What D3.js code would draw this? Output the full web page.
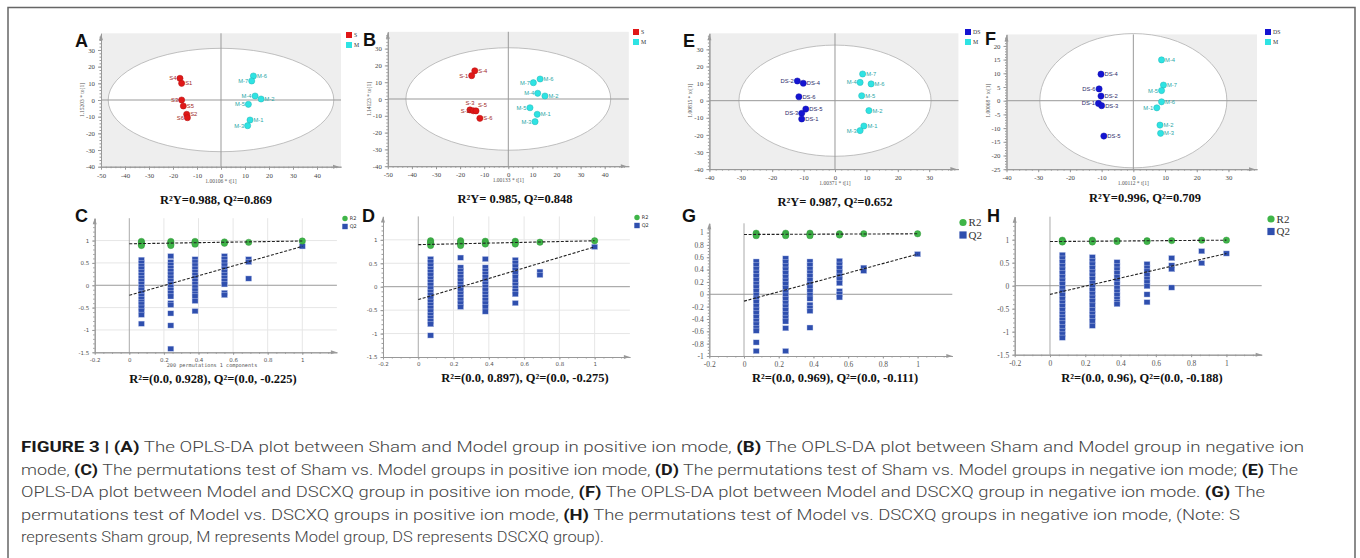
<!DOCTYPE html>
<html>
<head>
<meta charset="utf-8">
<script src="https://cdn.jsdelivr.net/npm/d3@7"></script>
<style>
  body { margin: 0; background: #fff; }
  svg { display: block; }
</style>
</head>
<body>
<svg id="fig" width="1360" height="558"></svg>
<script>
// ---------- OPLS-DA scores : [sample, t[1], to[1]] ----------
var shamA = [["S4",-17.1,13],["S1",-16.4,10],["S3",-16.4,0],["S5",-15.7,-3.6],["S2",-14.3,-8.6],["S6",-14,-10.6]];
var modelA = [["M-6",13.5,14.4],["M-7",12.8,11.4],["M-4",14.2,2.4],["M-2",16.7,0.6],["M-5",11.4,-2.6],["M-1",12.1,-12],["M-3",11.1,-15.4]];

var shamB = [["S-4",-13.9,16.8],["S-1",-15.2,13.9],["S-3",-15.9,-6.5],["S-2",-14.5,-7],["S-5",-13.4,-7.1],["S-6",-11.8,-11.5]];
var modelB = [["M-6",13.2,11.9],["M-7",10.4,9.7],["M-4",12.2,3.4],["M-2",15.2,1.8],["M-5",9,-5.2],["M-1",12,-9.1],["M-3",11.1,-13.5]];

var dsE = [["DS-2",-12,11.5],["DS-4",-10.1,10.2],["DS-6",-11.5,2.3],["DS-5",-9.3,-4.9],["DS-3",-10.6,-7.4],["DS-1",-10.6,-10.7]];
var modelE = [["M-7",8.8,15.6],["M-4",8,10.7],["M-6",11.5,9.8],["M-5",8.5,2.9],["M-2",10.8,-5.8],["M-1",9.2,-14.8],["M-3",8,-17.5]];

var dsF = [["DS-4",-10.2,9.7],["DS-6",-10.8,4.3],["DS-2",-10.2,1.7],["DS-1",-11,-1],["DS-3",-10,-1.8],["DS-5",-9.3,-12.9]];
var modelF = [["M-4",8.9,14.9],["M-7",9.5,5.7],["M-5",8.9,3.7],["M-6",8.9,-0.4],["M-1",7.4,-2.6],["M-2",8.4,-8.9],["M-3",8.6,-11.9]];

// Hotelling T2 ellipse half-axes [t, to]
var ellA = [47, 31], ellB = [42.5, 30.5], ellE = [30.6, 32.5], ellF = [29.5, 24.5];

var statsTop = ["R\u00b2Y=0.988, Q\u00b2=0.869", "R\u00b2Y= 0.985, Q\u00b2=0.848", "R\u00b2Y= 0.987, Q\u00b2=0.652", "R\u00b2Y=0.996, Q\u00b2=0.709"];

// ---------- permutation tests ----------
var permX = [0.07, 0.24, 0.38, 0.55, 0.69, 1];
var permXH = [0.07, 0.24, 0.38, 0.55, 0.69, 0.86, 1];

var r2C = [[0.98,0.95,0.92,0.89],[0.98,0.95,0.92,0.89],[0.98,0.95,0.92],[0.97,0.94],[0.96],[0.99]];
var q2C = [
  [0.57,0.5,0.43,0.37,0.3,0.23,0.16,0.1,0.03,-0.04,-0.1,-0.17,-0.24,-0.31,-0.37,-0.43,-0.5,-0.57,-0.66,-0.86],
  [0.65,0.52,0.45,0.38,0.31,0.24,0.17,0.1,0.03,-0.04,-0.11,-0.18,-0.25,-0.4,-0.44,-0.63,-0.9,-1.42],
  [0.58,0.51,0.44,0.37,0.3,0.23,0.16,0.09,0.02,-0.05,-0.12,-0.19,-0.25,-0.35,-0.58],
  [0.65,0.58,0.51,0.44,0.37,0.3,0.23,0.16,0.09,0.02,-0.17,-0.22],
  [0.58,0.52,0.15],
  [0.87]];
var icptC = [0.928, -0.225];

var r2D = [[0.98,0.95,0.92,0.88],[0.98,0.95,0.92,0.88],[0.97,0.94,0.91],[0.97,0.94,0.91],[0.95],[0.98]];
var q2D = [
  [0.59,0.52,0.45,0.38,0.31,0.24,0.17,0.1,0.03,-0.04,-0.11,-0.18,-0.25,-0.32,-0.39,-0.46,-0.53,-0.6,-0.67,-0.74,-0.8,-1.04],
  [0.62,0.41,0.34,0.27,0.2,0.13,0.06,-0.01,-0.08,-0.15,-0.22,-0.29,-0.36,-0.43],
  [0.59,0.41,0.34,0.27,0.2,0.13,0.06,-0.01,-0.08,-0.15,-0.22,-0.29,-0.36,-0.43,-0.53],
  [0.57,0.5,0.43,0.36,0.29,0.21,0.11,0.04,-0.03,-0.1,-0.16,-0.35],
  [0.32,0.25],
  [0.85]];
var icptD = [0.897, -0.275];

var r2G = [[0.99,0.97,0.95],[0.99,0.97,0.95],[0.99,0.97,0.95],[0.98,0.96],[0.98],[0.98]];
var q2G = [
  [0.53,0.47,0.41,0.35,0.29,0.23,0.17,0.11,0.05,-0.01,-0.07,-0.13,-0.19,-0.25,-0.31,-0.37,-0.43,-0.49,-0.55,-0.59,-0.78,-0.92],
  [0.58,0.52,0.46,0.4,0.34,0.28,0.22,0.16,0.1,0.04,-0.02,-0.08,-0.14,-0.2,-0.26,-0.32,-0.38,-0.44,-0.55,-0.92],
  [0.53,0.47,0.41,0.35,0.29,0.23,0.17,0.11,0.05,-0.01,-0.07,-0.17,-0.22,-0.27,-0.54],
  [0.54,0.48,0.42,0.36,0.3,0.24,0.18,0.05,0,-0.05],
  [0.43,0.38],
  [0.65]];
var icptG = [0.969, -0.111];

var r2H = [[0.99,0.97,0.95],[0.99,0.97,0.95],[0.98,0.96],[0.98,0.96],[0.98],[0.99],[0.99]];
var q2H = [
  [0.67,0.59,0.51,0.43,0.35,0.27,0.19,0.11,0.03,-0.05,-0.13,-0.21,-0.29,-0.37,-0.45,-0.53,-0.61,-0.69,-0.75,-0.82,-0.9,-0.98,-1.06,-1.13],
  [0.62,0.54,0.46,0.38,0.3,0.22,0.14,0.06,-0.02,-0.1,-0.18,-0.26,-0.34,-0.43,-0.53,-0.61,-0.69,-0.77,-0.87],
  [0.51,0.43,0.35,0.27,0.19,0.11,0.03,-0.05,-0.13,-0.21,-0.29,-0.36,-0.4],
  [0.47,0.39,0.31,0.23,0.15,0.07,-0.01,-0.19,-0.36],
  [0.6,0.44,0.36,-0.04],
  [0.75,0.49],
  [0.7]];
var icptH = [0.96, -0.188];

var statsPerm = ["R\u00b2=(0.0, 0.928), Q\u00b2=(0.0, -0.225)", "R\u00b2=(0.0, 0.897), Q\u00b2=(0.0, -0.275)",
                 "R\u00b2=(0.0, 0.969), Q\u00b2=(0.0, -0.111)", "R\u00b2=(0.0, 0.96), Q\u00b2=(0.0, -0.188)"];

var caption = [
  [["FIGURE 3 | ",1],["(A)",1],[" The OPLS-DA plot between Sham and Model group in positive ion mode, ",0],["(B)",1],[" The OPLS-DA plot between Sham and Model group in negative ion",0]],
  [["mode, ",0],["(C)",1],[" The permutations test of Sham vs. Model groups in positive ion mode, ",0],["(D)",1],[" The permutations test of Sham vs. Model groups in negative ion mode; ",0],["(E)",1],[" The",0]],
  [["OPLS-DA plot between Model and DSCXQ group in positive ion mode, ",0],["(F)",1],[" The OPLS-DA plot between Model and DSCXQ group in negative ion mode. ",0],["(G)",1],[" The",0]],
  [["permutations test of Model vs. DSCXQ groups in positive ion mode, ",0],["(H)",1],[" The permutations test of Model vs. DSCXQ groups in negative ion mode, (Note: S",0]],
  [["represents Sham group, M represents Model group, DS represents DSCXQ group).",0]]
];
var captionWidths = [1283, 1277, 1244, 1219, 583];

// ---------- colours ----------
var C_S = "#e01818", C_M = "#2ee3e3", C_DS = "#1414d2";
var C_R2 = "#3fb548", C_Q2 = "#2f4fae";

var svg = d3.select("#fig");
svg.append("rect").attr("width", 1360).attr("height", 558).attr("fill", "#fff");
svg.append("path").attr("d", "M8,562V7.5H1355V562").attr("fill", "none").attr("stroke", "#666").attr("stroke-width", 1.5);

function arrow(g, x, y, dir) {
  var p = dir === "up" ? [[x, y], [x - 2, y + 6], [x + 2, y + 6]] : [[x, y], [x - 6, y - 2], [x - 6, y + 2]];
  g.append("path").attr("d", d3.line()(p) + "Z").attr("fill", "#999");
}

function styleAxis(a, font, size, col) {
  a.select(".domain").attr("stroke", "#999");
  a.selectAll(".tick line").attr("stroke", "#999");
  a.selectAll(".tick text").attr("font-family", font).attr("font-size", size).attr("fill", col);
}

function letter(t, x, y) {
  svg.append("text").attr("x", x).attr("y", y).text(t)
    .attr("font-family", "Liberation Sans, Arial, sans-serif").attr("font-weight", "bold")
    .attr("font-size", 18).attr("fill", "#111");
}

function stat(t, x, y) {
  svg.append("text").attr("x", x).attr("y", y).text(t).attr("text-anchor", "middle")
    .attr("font-family", "Liberation Serif, Times New Roman, serif").attr("font-weight", "bold")
    .attr("font-size", 12.5).attr("fill", "#111");
}

function drawScatter(p) {
  var g = svg.append("g");
  var x = d3.scaleLinear().domain(p.xd).range(p.xr);
  var y = d3.scaleLinear().domain(p.yd).range(p.yr);
  var x0 = p.xr[0], x1 = p.xr[1], yb = p.yr[0], yt = p.yr[1];

  g.append("rect").attr("x", x0).attr("y", yt).attr("width", x1 - x0).attr("height", yb - yt).attr("fill", "#eeeeee");
  g.append("ellipse").attr("cx", x(0)).attr("cy", y(0))
    .attr("rx", x(p.ell[0]) - x(0)).attr("ry", y(0) - y(p.ell[1]))
    .attr("fill", "#fff").attr("stroke", "#b0b0b0").attr("stroke-width", 0.8);
  g.append("line").attr("x1", x(0)).attr("x2", x(0)).attr("y1", yt).attr("y2", yb).attr("stroke", "#999");
  g.append("line").attr("x1", x0).attr("x2", x1).attr("y1", y(0)).attr("y2", y(0)).attr("stroke", "#999");

  var fmt = function(d) { return String(d); };
  var ax = g.append("g").attr("transform", "translate(0," + yb + ")")
    .call(d3.axisBottom(x).tickValues(p.xt).tickSize(3).tickSizeOuter(0).tickFormat(fmt));
  styleAxis(ax, "Liberation Serif, serif", 6.8, "#444");
  var axm = g.append("g").attr("transform", "translate(0," + yb + ")")
    .call(d3.axisBottom(x).tickValues(p.xm).tickSize(1.5).tickSizeOuter(0).tickFormat(""));
  styleAxis(axm, "serif", 1, "#444");
  var ay = g.append("g").attr("transform", "translate(" + x0 + ",0)")
    .call(d3.axisLeft(y).tickValues(p.yt).tickSize(3).tickSizeOuter(0).tickFormat(fmt));
  styleAxis(ay, "Liberation Serif, serif", 6.8, "#444");
  var aym = g.append("g").attr("transform", "translate(" + x0 + ",0)")
    .call(d3.axisLeft(y).tickValues(p.ym).tickSize(1.5).tickSizeOuter(0).tickFormat(""));
  styleAxis(aym, "serif", 1, "#444");
  arrow(g, x0, yt + 1, "up");
  arrow(g, x1 - 2, yb, "right");

  g.append("text").attr("x", x(0)).attr("y", yb + 16).attr("text-anchor", "middle").text(p.xl)
    .attr("font-family", "Liberation Serif, serif").attr("font-size", 5.5).attr("fill", "#555");
  g.append("text").attr("transform", "translate(" + (x0 - 17) + "," + y(0) + ") rotate(-90)")
    .attr("text-anchor", "middle").text(p.yl)
    .attr("font-family", "Liberation Serif, serif").attr("font-size", 5.5).attr("fill", "#555");

  // label placement: left of point, above it, above-right, or right (default)
  function where(name) {
    if (p.left.indexOf(name) >= 0) return "l";
    if ((p.up || []).indexOf(name) >= 0) return "u";
    if ((p.upr || []).indexOf(name) >= 0) return "ur";
    return "r";
  }
  var dxs = { l: -3.5, r: 3.5, u: 0, ur: 2 }, dys = { l: 2, r: 2, u: -4.5, ur: -3.5 };
  var anc = { l: "end", r: "start", u: "middle", ur: "start" };

  p.groups.forEach(function(gr) {
    var pts = g.append("g").selectAll("g").data(gr.data).join("g");
    pts.append("circle").attr("cx", function(d) { return x(d[1]); }).attr("cy", function(d) { return y(d[2]); })
      .attr("r", 3.1).attr("fill", gr.color).attr("stroke", d3.color(gr.color).darker(0.6)).attr("stroke-width", 0.5);
    pts.append("text")
      .attr("x", function(d) { return x(d[1]) + dxs[where(d[0])]; })
      .attr("y", function(d) { return y(d[2]) + dys[where(d[0])]; })
      .attr("text-anchor", function(d) { return anc[where(d[0])]; })
      .text(function(d) { return d[0]; })
      .attr("font-family", "Liberation Sans, Arial, sans-serif").attr("font-size", 5.8).attr("fill", gr.label);
  });

  // legend
  p.groups.forEach(function(gr, i) {
    g.append("rect").attr("x", p.leg[0]).attr("y", p.leg[1] + i * 10).attr("width", 6).attr("height", 6).attr("fill", gr.color);
    g.append("text").attr("x", p.leg[0] + 8).attr("y", p.leg[1] + i * 10 + 5).text(gr.name)
      .attr("font-family", "Liberation Serif, serif").attr("font-size", 5.8).attr("fill", "#333");
  });
}

function drawPerm(p) {
  var g = svg.append("g");
  var x = d3.scaleLinear().domain(p.xd).range(p.xr);
  var y = d3.scaleLinear().domain(p.yd).range(p.yr);
  var x0 = p.xr[0], x1 = p.xr[1], yb = p.yr[0], yt = p.yr[1];

  if (p.grid) {
    g.selectAll(".gy").data(p.gy).join("line").attr("x1", x0).attr("x2", x1)
      .attr("y1", function(d) { return y(d); }).attr("y2", function(d) { return y(d); }).attr("stroke", "#e6e6e6");
    g.selectAll(".gx").data(p.gx).join("line").attr("y1", yt).attr("y2", yb)
      .attr("x1", function(d) { return x(d); }).attr("x2", function(d) { return x(d); }).attr("stroke", "#e6e6e6");
  }
  g.append("line").attr("x1", x(0)).attr("x2", x(0)).attr("y1", yt).attr("y2", yb).attr("stroke", "#aaa");
  g.append("line").attr("x1", x0).attr("x2", x1).attr("y1", y(0)).attr("y2", y(0)).attr("stroke", "#999");

  var fmt = function(d) { return String(d); };
  var ax = g.append("g").attr("transform", "translate(0," + yb + ")")
    .call(d3.axisBottom(x).tickValues(p.xt).tickSize(2.5).tickSizeOuter(0).tickFormat(fmt));
  styleAxis(ax, p.font, p.fs, "#555");
  var axm = g.append("g").attr("transform", "translate(0," + yb + ")")
    .call(d3.axisBottom(x).tickValues(p.xm).tickSize(1.5).tickSizeOuter(0).tickFormat(""));
  styleAxis(axm, "serif", 1, "#555");
  var ay = g.append("g").attr("transform", "translate(" + x0 + ",0)")
    .call(d3.axisLeft(y).tickValues(p.yt).tickSize(2.5).tickSizeOuter(0).tickFormat(fmt));
  styleAxis(ay, p.font, p.fs, "#555");
  var aym = g.append("g").attr("transform", "translate(" + x0 + ",0)")
    .call(d3.axisLeft(y).tickValues(p.ym).tickSize(1.5).tickSizeOuter(0).tickFormat(""));
  styleAxis(aym, "serif", 1, "#555");
  arrow(g, x0, yt, "up");
  arrow(g, x1, yb, "right");

  // Q2 squares
  p.q2.forEach(function(col, i) {
    g.append("g").selectAll("rect").data(col).join("rect")
      .attr("x", x(p.cols[i]) - 3).attr("y", function(d) { return y(d) - 2.6; })
      .attr("width", 6).attr("height", 5.2).attr("fill", C_Q2).attr("stroke", "#c9d2f0").attr("stroke-width", 0.4);
  });
  // R2 circles
  p.r2.forEach(function(col, i) {
    g.append("g").selectAll("circle").data(col).join("circle")
      .attr("cx", x(p.cols[i])).attr("cy", function(d) { return y(d); })
      .attr("r", 3.2).attr("fill", C_R2).attr("stroke", "#2e8f38").attr("stroke-width", 0.4);
  });
  // regression lines from intercept to original model
  var last = p.cols.length - 1;
  [[p.icpt[0], p.r2[last][0]], [p.icpt[1], p.q2[last][0]]].forEach(function(l) {
    g.append("line").attr("x1", x(0)).attr("y1", y(l[0])).attr("x2", x(1)).attr("y2", y(l[1]))
      .attr("stroke", "#222").attr("stroke-width", 1.1).attr("stroke-dasharray", "3,1.6");
  });

  // legend
  g.append("circle").attr("cx", p.leg[0]).attr("cy", p.leg[1]).attr("r", p.lr).attr("fill", C_R2);
  g.append("rect").attr("x", p.leg[0] - p.lr).attr("y", p.leg[1] + p.lgap - p.lr).attr("width", p.lr * 2).attr("height", p.lr * 2).attr("fill", C_Q2);
  ["R2", "Q2"].forEach(function(t, i) {
    g.append("text").attr("x", p.leg[0] + p.lr + 2).attr("y", p.leg[1] + i * p.lgap + p.lfs * 0.35).text(t)
      .attr("font-family", p.lfont).attr("font-size", p.lfs).attr("fill", "#333");
  });
}

var xtTop = [-50, -40, -30, -20, -10, 0, 10, 20, 30, 40];
var ytTop = [-40, -30, -20, -10, 0, 10, 20, 30];

drawScatter({ xd: [-50, 50], xr: [101, 341], yd: [-40, 40], yr: [166.7, 33.3], ell: ellA,
  xt: xtTop, xm: d3.range(-50, 50, 2), yt: ytTop, ym: d3.range(-40, 40, 2),
  xl: "1.00106 * t[1]", yl: "1.15203 * to[1]", leg: [346, 32],
  left: ["S4", "S3", "S6", "M-7", "M-4", "M-5", "M-3"],
  groups: [{ name: "S", data: shamA, color: C_S, label: "#a02828" }, { name: "M", data: modelA, color: C_M, label: "#2aa7a7" }] });

drawScatter({ xd: [-50, 50], xr: [387.8, 628.8], yd: [-40, 40], yr: [166.2, 31.8], ell: ellB,
  xt: xtTop, xm: d3.range(-50, 50, 2), yt: ytTop, ym: d3.range(-40, 40, 2),
  xl: "1.00133 * t[1]", yl: "1.14123 * to[1]", leg: [633, 29],
  left: ["S-1", "S-2", "M-7", "M-4", "M-5", "M-3"], up: ["S-3"], upr: ["S-5"],
  groups: [{ name: "S", data: shamB, color: C_S, label: "#a02828" }, { name: "M", data: modelB, color: C_M, label: "#2aa7a7" }] });

drawScatter({ xd: [-40, 39.3], xr: [709.4, 958.4], yd: [-40, 39.4], yr: [169.1, 33.3], ell: ellE,
  xt: [-40, -30, -20, -10, 0, 10, 20, 30], xm: d3.range(-40, 39, 2), yt: ytTop, ym: d3.range(-40, 39, 2),
  xl: "1.00371 * t[1]", yl: "1.00815 * to[1]", leg: [965, 29],
  left: ["DS-2", "DS-3", "M-4", "M-3"],
  groups: [{ name: "DS", data: dsE, color: C_DS, label: "#2a2a6a" }, { name: "M", data: modelE, color: C_M, label: "#2aa7a7" }] });

drawScatter({ xd: [-40, 39], xr: [1006.5, 1257], yd: [-25, 24.2], yr: [169.2, 34.4], ell: ellF,
  xt: [-40, -30, -20, -10, 0, 10, 20, 30], xm: d3.range(-40, 39, 2), yt: d3.range(-25, 21, 5), ym: d3.range(-25, 24, 1),
  xl: "1.00112 * t[1]", yl: "1.00068 * to[1]", leg: [1265, 29],
  left: ["DS-6", "DS-1", "M-5", "M-1"],
  groups: [{ name: "DS", data: dsF, color: C_DS, label: "#2a2a6a" }, { name: "M", data: modelF, color: C_M, label: "#2aa7a7" }] });

var smallSans = { font: "DejaVu Sans, sans-serif", fs: 5.5, lfont: "DejaVu Sans, sans-serif", lfs: 5, lr: 2.7, lgap: 8 };
var serifBig = { font: "Liberation Serif, serif", fs: 7.5, lfont: "Liberation Serif, serif", lfs: 11, lr: 3.6, lgap: 12.5 };

drawPerm(Object.assign({}, smallSans, { xd: [-0.2, 1.2], xr: [94.7, 336.9], yd: [-1.5, 1.5], yr: [352.3, 218.2],
  xt: [-0.2, 0, 0.2, 0.4, 0.6, 0.8, 1], xm: d3.range(-0.2, 1.19, 0.05), yt: [-1.5, -1, -0.5, 0, 0.5, 1], ym: d3.range(-1.5, 1.5, 0.1),
  grid: true, gy: [-1, -0.5, 0.5, 1], gx: [0.2, 0.4, 0.6, 0.8, 1], cols: permX, r2: r2C, q2: q2C, icpt: icptC, leg: [345, 218.5] }));

drawPerm(Object.assign({}, smallSans, { xd: [-0.2, 1.2], xr: [383, 629.9], yd: [-1.5, 1.5], yr: [357, 216.4],
  xt: [-0.2, 0, 0.2, 0.4, 0.6, 0.8, 1], xm: d3.range(-0.2, 1.19, 0.05), yt: [-1.5, -1, -0.5, 0, 0.5, 1], ym: d3.range(-1.5, 1.5, 0.1),
  grid: true, gy: [-1, -0.5, 0.5, 1], gx: [0.2, 0.4, 0.6, 0.8, 1], cols: permX, r2: r2D, q2: q2D, icpt: icptD, leg: [637, 217.5] }));

drawPerm(Object.assign({}, serifBig, { xd: [-0.2, 1.2], xr: [709.3, 952.3], yd: [-1, 1.15], yr: [356, 223.3],
  xt: [-0.2, 0, 0.2, 0.4, 0.6, 0.8, 1], xm: d3.range(-0.2, 1.19, 0.05), yt: d3.range(-1, 1.01, 0.2).map(function(v) { return +v.toFixed(1); }),
  ym: d3.range(-1, 1.1, 0.05), grid: false, cols: permX, r2: r2G, q2: q2G, icpt: icptG, leg: [963, 222.5] }));

drawPerm(Object.assign({}, serifBig, { xd: [-0.2, 1.2], xr: [1014.7, 1261.7], yd: [-1.5, 1.5], yr: [354.7, 216.7],
  xt: [-0.2, 0, 0.2, 0.4, 0.6, 0.8, 1], xm: d3.range(-0.2, 1.19, 0.05), yt: [-1.5, -1, -0.5, 0, 0.5, 1], ym: d3.range(-1.5, 1.5, 0.1),
  grid: false, cols: permXH, r2: r2H, q2: q2H, icpt: icptH, leg: [1271, 219] }));

svg.append("text").attr("x", 212).attr("y", 367).attr("text-anchor", "middle").text("200 permutations 1 components")
  .attr("font-family", "DejaVu Sans Mono, monospace").attr("font-size", 5.2).attr("fill", "#555");

// panel letters and statistics
[["A", 75, 47], ["B", 363, 46], ["E", 683, 47], ["F", 985, 45], ["C", 75, 222], ["D", 362, 222], ["G", 682, 222], ["H", 987, 222]]
  .forEach(function(l) { letter(l[0], l[1], l[2]); });
[[216, 204], [515, 203], [835, 206], [1145, 202]].forEach(function(pos, i) { stat(statsTop[i], pos[0], pos[1]); });
[[213, 383], [525, 382], [835, 382], [1142, 382]].forEach(function(pos, i) { stat(statsPerm[i], pos[0], pos[1]); });

// caption
var capBase = [452, 474.5, 497, 519.5, 542];
caption.forEach(function(line, i) {
  var t = svg.append("text").attr("x", 21).attr("y", capBase[i])
    .attr("font-family", "Roboto, Liberation Sans, Arial, sans-serif").attr("font-size", 15.5).attr("font-weight", 300)
    .attr("fill", "#444")
    .attr("textLength", captionWidths[i]).attr("lengthAdjust", "spacingAndGlyphs");
  line.forEach(function(seg) {
    t.append("tspan").text(seg[0]).attr("font-weight", seg[1] ? "bold" : 300).attr("fill", seg[1] ? "#1a1a1a" : "#444");
  });
});
</script>
</body>
</html>
